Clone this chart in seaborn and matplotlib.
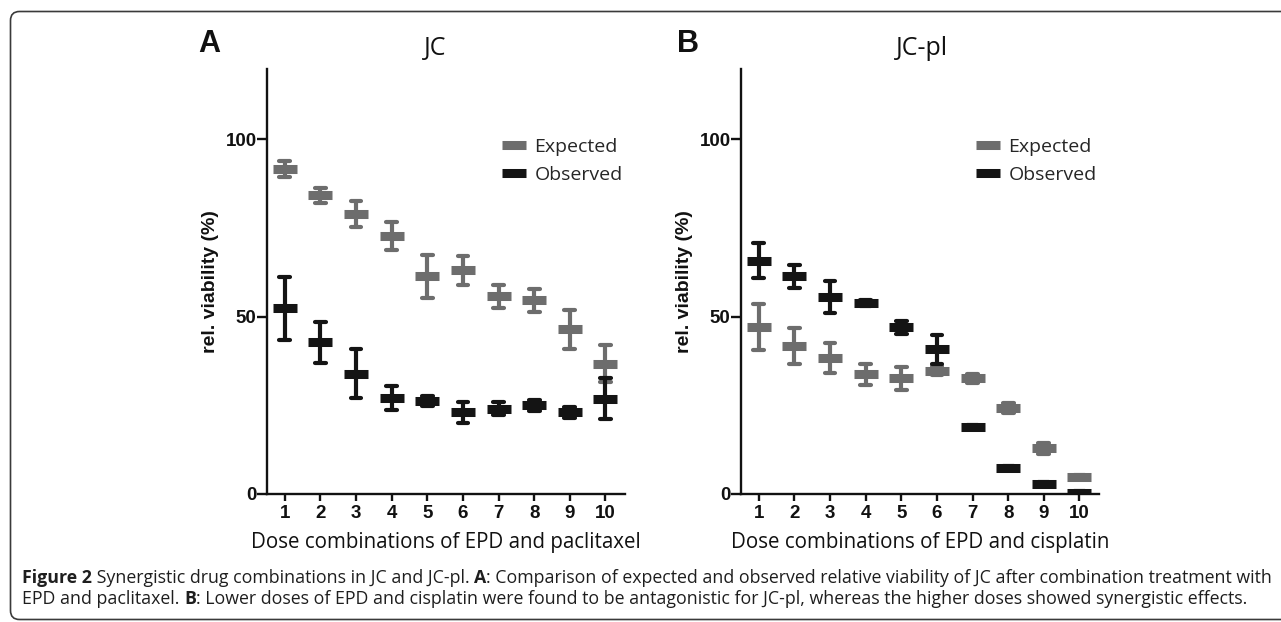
import numpy as np
import pandas as pd
import matplotlib
matplotlib.use("Agg")
import matplotlib.pyplot as plt
from matplotlib.lines import Line2D
from matplotlib.patches import FancyBboxPatch
from matplotlib.transforms import IdentityTransform
import seaborn as sns

# dose combinations 1..10
doses = [str(i) for i in range(1, 11)]

# panel A: JC, EPD + paclitaxel (mean, error)
jc_expected = [91.7, 84.2, 78.9, 72.8, 61.3, 63.0, 55.7, 54.6, 46.4, 36.7]
jc_expected_err = [2.2, 2.2, 3.6, 4.0, 6.0, 4.0, 3.3, 3.3, 5.5, 5.2]
jc_observed = [52.3, 42.7, 33.8, 27.1, 26.2, 22.9, 24.0, 24.9, 22.9, 26.8]
jc_observed_err = [8.8, 5.7, 6.9, 3.4, 1.4, 2.9, 1.8, 1.5, 1.5, 5.7]

# panel B: JC-pl, EPD + cisplatin
jcpl_expected = [47.0, 41.7, 38.3, 33.7, 32.5, 34.7, 32.5, 24.2, 12.8, 4.8]
jcpl_expected_err = [6.4, 5.0, 4.2, 2.9, 3.3, 1.2, 1.2, 1.5, 1.5, 0.5]
jcpl_observed = [65.8, 61.3, 55.5, 53.9, 46.9, 40.8, 18.9, 7.2, 2.7, 0.3]
jcpl_observed_err = [5.0, 3.3, 4.5, 0.8, 1.7, 4.1, 0.5, 0.5, 0.5, 0.5]

groups = ["Expected", "Observed"]
palette = {"Expected": "#6d6d6d", "Observed": "#141414"}

W, H = 1281, 622


def long_frame(exp, exp_err, obs, obs_err):
    # two rows per point (mean - err, mean + err) -> mean + full range = error bar
    rows = []
    for group, means, errs in zip(groups, (exp, obs), (exp_err, obs_err)):
        for d, m, e in zip(doses, means, errs):
            rows.append((d, group, m - e))
            rows.append((d, group, m + e))
    return pd.DataFrame(rows, columns=["dose", "group", "viability"])


def draw_panel(ax, df, xlabel):
    sns.pointplot(data=df, x="dose", y="viability", hue="group", order=doses,
                  hue_order=groups, palette=palette, estimator="mean",
                  errorbar=("pi", 100), marker="_", markersize=17,
                  markeredgewidth=6.5, linestyle="none", capsize=0.3,
                  err_kws={"linewidth": 3.0}, dodge=False, legend=False, ax=ax)
    sns.despine(ax=ax)
    ax.set_xlim(-0.5, 9.55)
    ax.set_ylim(0, 120)
    ax.set_yticks([0, 50, 100])
    for s in ("left", "bottom"):
        ax.spines[s].set_linewidth(1.7)
        ax.spines[s].set_color("#111111")
    ax.tick_params(axis="x", length=5, width=1.7, pad=3.5, labelsize=13.5, colors="#111111")
    ax.tick_params(axis="y", length=7, width=1.7, pad=0.5, labelsize=13.5, colors="#111111")
    for lab in ax.get_xticklabels() + ax.get_yticklabels():
        lab.set_fontweight("bold")
    ax.set_ylabel("rel. viability (%)", fontsize=14, fontweight="bold", color="#111111")
    ax.yaxis.set_label_coords(-0.135, 0.5)
    ax.set_xlabel(xlabel, fontsize=14.8, family="Open Sans", color="#111111")
    ax.xaxis.set_label_coords(0.5, -0.09)
    handles = [Line2D([], [], color=palette[g], marker="_", markersize=17,
                      markeredgewidth=6.5, linestyle="none") for g in groups]
    ax.legend(handles, groups, loc="upper left", bbox_to_anchor=(0.63, 0.86),
              frameon=False, borderpad=0, handlelength=1.2, handletextpad=0.45,
              labelspacing=0.5, prop={"family": "Open Sans", "size": 14})


def rich_line(fig, renderer, x, y, parts, size):
    # draws bold/regular runs one after another on the same baseline
    for text, weight in parts:
        t = fig.text(x / W, y / H, text, fontsize=size, family="Open Sans",
                     fontweight=weight, color="#1e1e1e", ha="left", va="baseline")
        bb = t.get_window_extent(renderer)
        x += bb.width


sns.set_style("ticks")
plt.rcParams["font.family"] = ["Liberation Sans", "DejaVu Sans"]

fig = plt.figure(figsize=(W / 100, H / 100), dpi=100)
axA = fig.add_axes([267 / W, 1 - 493.6 / H, 358 / W, 425 / H])
axB = fig.add_axes([741 / W, 1 - 493.6 / H, 358 / W, 425 / H])

draw_panel(axA, long_frame(jc_expected, jc_expected_err, jc_observed, jc_observed_err),
           "Dose combinations of EPD and paclitaxel")
draw_panel(axB, long_frame(jcpl_expected, jcpl_expected_err, jcpl_observed, jcpl_observed_err),
           "Dose combinations of EPD and cisplatin")

# panel letters and titles
fig.text(198 / W, 1 - 52 / H, "A", fontsize=22, fontweight="bold", color="#111111", va="baseline")
fig.text(677 / W, 1 - 52 / H, "B", fontsize=22, fontweight="bold", color="#111111", va="baseline")
fig.text(435 / W, 1 - 55 / H, "JC", fontsize=18, family="Open Sans", color="#111111",
         ha="center", va="baseline")
fig.text(922 / W, 1 - 55 / H, "JC-pl", fontsize=18, family="Open Sans", color="#111111",
         ha="center", va="baseline")

# caption
renderer = fig.canvas.get_renderer()
cap_size = 12.8
rich_line(fig, renderer, 22, H - 583, [
    ("Figure 2", "bold"),
    (" Synergistic drug combinations in JC and JC-pl. ", "normal"),
    ("A", "bold"),
    (": Comparison of expected and observed relative viability of JC after combination treatment with", "normal"),
], cap_size)
rich_line(fig, renderer, 22, H - 604, [
    ("EPD and paclitaxel. ", "normal"),
    ("B", "bold"),
    (": Lower doses of EPD and cisplatin were found to be antagonistic for JC-pl, whereas the higher doses showed synergistic effects.", "normal"),
], cap_size)

# rounded frame around the figure (right side runs off the image)
frame = FancyBboxPatch((10.5, 2.5), 1300, 608, boxstyle="round,pad=0,rounding_size=9",
                       transform=IdentityTransform(), facecolor="none",
                       edgecolor="#3a3a3a", linewidth=1.2)
fig.patches.append(frame)

fig.savefig("out.png", dpi=100)
